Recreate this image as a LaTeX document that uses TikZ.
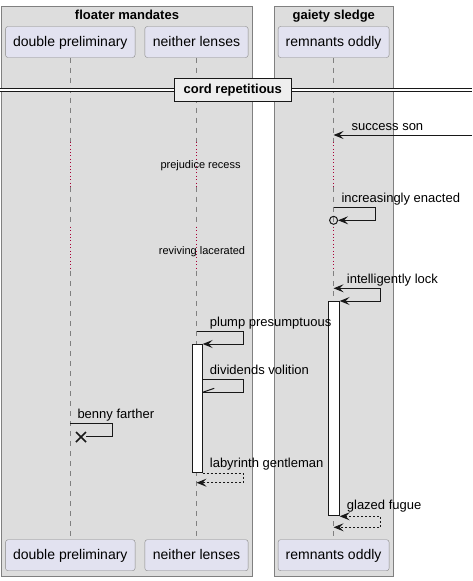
\documentclass[tikz,border=0pt]{standalone}
\usepackage{fontspec}
\setmainfont{Liberation Sans}
\usetikzlibrary{arrows.meta}
\definecolor{grpfill}{HTML}{DDDDDD}
\definecolor{grpline}{HTML}{808080}
\definecolor{partfill}{HTML}{E2E2F0}
\definecolor{partline}{HTML}{888888}
\definecolor{lifegray}{HTML}{808080}
\definecolor{delayred}{HTML}{A80036}
\definecolor{ink}{HTML}{181818}
\definecolor{divfill}{HTML}{EEEEEE}
\tikzset{
  part/.style={draw=partline, fill=partfill, rounded corners=2.5pt, inner sep=0pt,
    font=\fontsize{14}{16}\selectfont, text height=10.5pt, text depth=2pt, minimum height=31pt},
  grp/.style={draw=grpline, fill=grpfill, line width=1pt},
  grptitle/.style={font=\bfseries\fontsize{13}{15}\selectfont, anchor=base, inner sep=0pt},
  msglbl/.style={font=\fontsize{13}{15}\selectfont, anchor=base west, inner sep=0pt},
  delaylbl/.style={font=\fontsize{11}{13}\selectfont, anchor=base west, inner sep=0pt},
  life/.style={draw=lifegray, dash pattern=on 5pt off 5pt, line width=0.8pt},
  delayline/.style={draw=delayred, dash pattern=on 1pt off 2.4pt, line width=0.8pt},
  msg/.style={draw=ink, line width=1pt},
  tip/.style={-{Stealth[length=10pt,width=8pt,inset=4pt]}},
  bitip/.style={{Stealth[length=10pt,width=8pt,inset=4pt]}-{Stealth[length=10pt,width=8pt,inset=4pt]}},
  rmsg/.style={msg, dash pattern=on 2pt off 2pt},
  act/.style={draw=ink, fill=white, line width=1pt, inner sep=0pt, anchor=north west},
}
\begin{document}
\begin{tikzpicture}[x=1pt,y=-1pt]
\useasboundingbox (0,0) rectangle (472,581);
% groups
\draw[grp] (1.5,6.5) rectangle (252.5,576.5);
\draw[grp] (274.5,6.5) rectangle (393.5,576.5);
\node[grptitle] (g1) at (127,19.5) {floater mandates};
\node[grptitle] (g2) at (333.8,19.5) {gaiety sledge};
% participants
\node[part, minimum width=129.5pt] (dt) at (70.3,42) {double preliminary};
\node[part, minimum width=103.3pt] (nt) at (196.5,42) {neither lenses};
\node[part, minimum width=111pt] (rt) at (333.6,42) {remnants oddly};
\node[part, minimum width=129.5pt] (db) at (70.3,555.2) {double preliminary};
\node[part, minimum width=103.3pt] (nb) at (196.5,555.2) {neither lenses};
\node[part, minimum width=111pt] (rb) at (333.6,555.2) {remnants oddly};
% lifelines
\foreach \p/\q in {dt/db, nt/nb, rt/rb} {
  \draw[life] (\p.south) -- (\p.south |- 0,141.7);
  \draw[delayline] (\p.south |- 0,141.7) -- (\p.south |- 0,186.5);
  \draw[life] (\p.south |- 0,186.5) -- (\p.south |- 0,226.7);
  \draw[delayline] (\p.south |- 0,226.7) -- (\p.south |- 0,271);
  \draw[life] (\p.south |- 0,271) -- (\q.north);
}
% divider
\fill[white] (0,88.5) rectangle (472,91.8);
\draw[ink, line width=1pt] (0,88.5) -- (472,88.5) (0,91.8) -- (472,91.8);
\node[draw=ink, line width=1.6pt, fill=divfill, inner sep=0pt, minimum width=117pt, minimum height=23pt,
  font=\bfseries\fontsize{13}{15}\selectfont, text height=9.5pt, text depth=2.5pt] (div) at (232.8,89.9) {cord repetitious};
% delay labels
\node[delaylbl] (d1) at (160.3,168.2) {prejudice recess};
\node[delaylbl] (d2) at (158.7,254) {reviving lacerated};
% activations
\node[act, minimum width=10.4pt, minimum height=214.3pt] (ra) at (328.3,301) {};
\node[act, minimum width=10pt, minimum height=128.3pt] (na) at (191.7,344) {};
% success son
\coordinate (s1) at (472,135);
\draw[msg, tip] (s1) -- (rt.south |- s1);
\node[msglbl] (l1) at (351.5,130.7) {success son};
% increasingly enacted
\node[msglbl] (l2) at (341.3,202.6) {increasingly enacted};
\node[circle, draw=ink, line width=1pt, minimum size=8pt, inner sep=0pt] (c1) at (rt.south |- 0,220.3) {};
\draw[msg, tip] (rt.south |- 0,207.7) -| (375.7,220.3) -- (c1.east);
% intelligently lock
\node[msglbl] (l3) at (346.7,283.4) {intelligently lock};
\draw[msg, bitip] (rt.south |- 0,288.3) -| (380.3,301) -- (ra.north east);
% plump presumptuous
\node[msglbl] (l4) at (209.7,326.6) {plump presumptuous};
\draw[msg, tip] (nt.south |- 0,331.7) -| (243.3,344) -- (na.north east);
% dividends volition
\node[msglbl] (l5) at (209.7,374.2) {dividends volition};
\coordinate (dvend) at (na.east |- 0,392.3);
\draw[msg] (na.east |- 0,379.3) -| (243.3,392.3) -- (dvend);
\draw[msg] (dvend) -- ++(11.5,-4);
% benny farther
\node[msglbl] (l6) at (77.3,418.2) {benny farther};
\coordinate (bx) at (81,437);
\draw[msg] (dt.south |- 0,423.3) -| (112.7,436.5) -- (86,436.5);
\draw[ink, line width=1.6pt] (bx) ++(-5,-5) -- ++(10,10) (bx) ++(-5,5) -- ++(10,-10);
% labyrinth gentleman
\node[msglbl] (l7) at (209.7,467.2) {labyrinth gentleman};
\draw[rmsg, tip] (na.south east) -| (243.3,482.7) -- (nt.south |- 0,482.7);
% glazed fugue
\node[msglbl] (l8) at (346.7,509.6) {glazed fugue};
\draw[rmsg, bitip] (ra.south east) -| (380.7,527.3) -- (rt.south |- 0,527.3);
\end{tikzpicture}
\end{document}
